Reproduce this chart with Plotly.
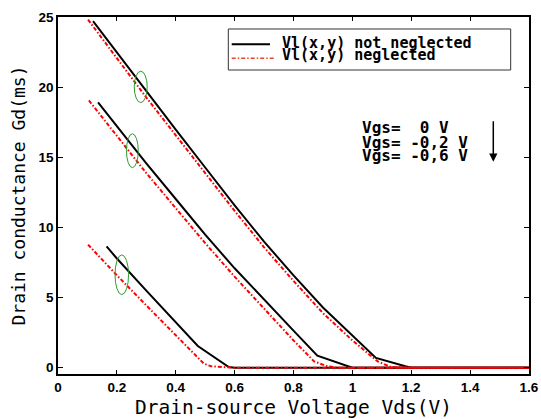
import plotly.graph_objects as go

# ---------------- data ----------------
# Vgs = 0 V
vds_a_full = [0.119, 0.2, 0.3, 0.4, 0.5, 0.6, 0.7, 0.8, 0.9, 1.0, 1.08, 1.18, 1.2, 1.4, 1.6]
gd_a_full = [24.75, 22.5, 19.7, 17.0, 14.3, 11.6, 9.0, 6.6, 4.3, 2.3, 0.7, 0.1, 0.0, 0.0, 0.0]
vds_a_negl = [0.102, 0.2, 0.3, 0.4, 0.5, 0.6, 0.7, 0.8, 0.9, 1.0, 1.086, 1.13, 1.2, 1.4, 1.6]
gd_a_negl = [24.86, 22.1, 19.3, 16.6, 13.9, 11.2, 8.6, 6.2, 3.9, 1.95, 0.45, 0.05, 0.0, 0.0, 0.0]

# Vgs = -0.2 V
vds_b_full = [0.136, 0.2, 0.3, 0.4, 0.5, 0.6, 0.7, 0.8, 0.881, 0.978, 1.0, 1.2, 1.4, 1.6]
gd_b_full = [18.95, 17.25, 14.6, 12.05, 9.5, 7.1, 4.85, 2.65, 0.86, 0.12, 0.0, 0.0, 0.0, 0.0]
vds_b_negl = [0.105, 0.2, 0.3, 0.4, 0.5, 0.6, 0.7, 0.8, 0.87, 0.915, 0.95, 1.2, 1.4, 1.6]
gd_b_negl = [19.09, 16.55, 13.9, 11.4, 8.9, 6.5, 4.2, 1.95, 0.45, 0.1, 0.0, 0.0, 0.0, 0.0]

# Vgs = -0.6 V
vds_c_full = [0.165, 0.2, 0.3, 0.4, 0.475, 0.58, 0.6, 0.8, 1.0, 1.2, 1.4, 1.6]
gd_c_full = [8.66, 7.8, 5.5, 3.2, 1.55, 0.05, 0.0, 0.0, 0.0, 0.0, 0.0, 0.0]
vds_c_negl = [0.102, 0.2, 0.3, 0.4, 0.495, 0.52, 0.58, 0.6, 0.8, 1.0, 1.2, 1.4, 1.6]
gd_c_negl = [8.79, 6.6, 4.45, 2.3, 0.3, 0.1, 0.03, 0.0, 0.0, 0.0, 0.0, 0.0, 0.0]

legend_labels = ["Vl(x,y) not neglected", "Vl(x,y) neglected"]
vgs_labels = ["Vgs=\u00a0\u00a00\u00a0V", "Vgs=\u00a0-0,2\u00a0V", "Vgs=\u00a0-0,6\u00a0V"]
x_ticks = [0, 0.2, 0.4, 0.6, 0.8, 1.0, 1.2, 1.4, 1.6]
x_tick_text = ["0", "0.2", "0.4", "0.6", "0.8", "1", "1.2", "1.4", "1.6"]
y_ticks = [0, 5, 10, 15, 20, 25]

# ---------------- figure ----------------
BLACK = "#000000"
RED = "#ff0000"
GREEN = "#2e9b2e"
MONO = "DejaVu Sans Mono"
RED_DASH = "4px,2px,1.5px,2px"

fig = go.Figure()

for xs, ys in [(vds_a_full, gd_a_full), (vds_b_full, gd_b_full), (vds_c_full, gd_c_full)]:
    fig.add_trace(go.Scatter(x=xs, y=ys, mode="lines",
                             line=dict(color=BLACK, width=2), showlegend=False,
                             name=legend_labels[0]))
for xs, ys in [(vds_a_negl, gd_a_negl), (vds_b_negl, gd_b_negl), (vds_c_negl, gd_c_negl)]:
    fig.add_trace(go.Scatter(x=xs, y=ys, mode="lines",
                             line=dict(color=RED, width=2, dash=RED_DASH), showlegend=False,
                             name=legend_labels[1]))

shapes = []
# green ellipses marking each Vgs pair
for cx, cy, hw, hh in [(0.281, 20.06, 0.022, 1.12), (0.2526, 15.5, 0.02, 1.21), (0.2167, 6.64, 0.023, 1.42)]:
    shapes.append(dict(type="circle", xref="x", yref="y", x0=cx - hw, x1=cx + hw,
                       y0=cy - hh, y1=cy + hh, line=dict(color=GREEN, width=1)))

# legend box and samples (paper coords)
shapes.append(dict(type="rect", xref="paper", yref="paper", x0=0.3616, x1=0.9611,
                   y0=0.8515, y1=0.9664, line=dict(color="#333333", width=1),
                   fillcolor="white", layer="above"))
shapes.append(dict(type="line", xref="paper", yref="paper", x0=0.3688, x1=0.4501,
                   y0=0.9235, y1=0.9235, line=dict(color=BLACK, width=2)))
shapes.append(dict(type="line", xref="paper", yref="paper", x0=0.3688, x1=0.4607,
                   y0=0.8843, y1=0.8843, line=dict(color="#e8452a", width=1.5, dash=RED_DASH)))

annotations = []
for lbl, yy in zip(legend_labels, [0.9272, 0.8936]):
    annotations.append(dict(xref="paper", yref="paper", x=0.4713, y=yy, xanchor="left",
                            yanchor="middle", text=lbl, showarrow=False,
                            font=dict(family=MONO, size=15, color=BLACK, weight="bold")))
for lbl, yy in zip(vgs_labels, [0.6891, 0.6490, 0.6134]):
    annotations.append(dict(xref="paper", yref="paper", x=0.6412, y=yy, xanchor="left",
                            yanchor="middle", text=lbl, showarrow=False,
                            font=dict(family=MONO, size=16, color=BLACK, weight="bold")))
# downward arrow
annotations.append(dict(xref="paper", yref="paper", x=0.9242, y=0.5947, ax=0, ay=-42,
                        text="", showarrow=True, arrowhead=2, arrowsize=1.1,
                        arrowwidth=1.5, arrowcolor=BLACK))

fig.update_layout(
    width=541, height=419,
    margin=dict(l=58, r=12, t=17, b=45),
    paper_bgcolor="white", plot_bgcolor="white",
    shapes=shapes, annotations=annotations,
    showlegend=False,
    xaxis=dict(range=[0, 1.6], tickvals=x_ticks, ticktext=x_tick_text, automargin=False,
               ticks="inside", ticklen=4, tickcolor=BLACK, tickwidth=1,
               showline=True, linecolor=BLACK, linewidth=2, mirror="ticks",
               showgrid=False, zeroline=False,
               tickfont=dict(family="Liberation Sans", size=13.5, color=BLACK, weight="bold"),
               title=dict(text="Drain-source Voltage Vds(V)", standoff=7,
                          font=dict(family=MONO, size=19.5, color=BLACK))),
    yaxis=dict(range=[-0.45, 25.05], tickvals=y_ticks, automargin=False,
               ticks="inside", ticklen=5, tickcolor=BLACK, tickwidth=1,
               showline=True, linecolor=BLACK, linewidth=1.5, mirror="ticks",
               showgrid=False, zeroline=False,
               tickfont=dict(family="Liberation Sans", size=13.5, color=BLACK, weight="bold"),
               title=dict(text="Drain conductance Gd(ms)", standoff=8,
                          font=dict(family=MONO, size=18, color=BLACK))),
)

fig.write_html("out.html")
